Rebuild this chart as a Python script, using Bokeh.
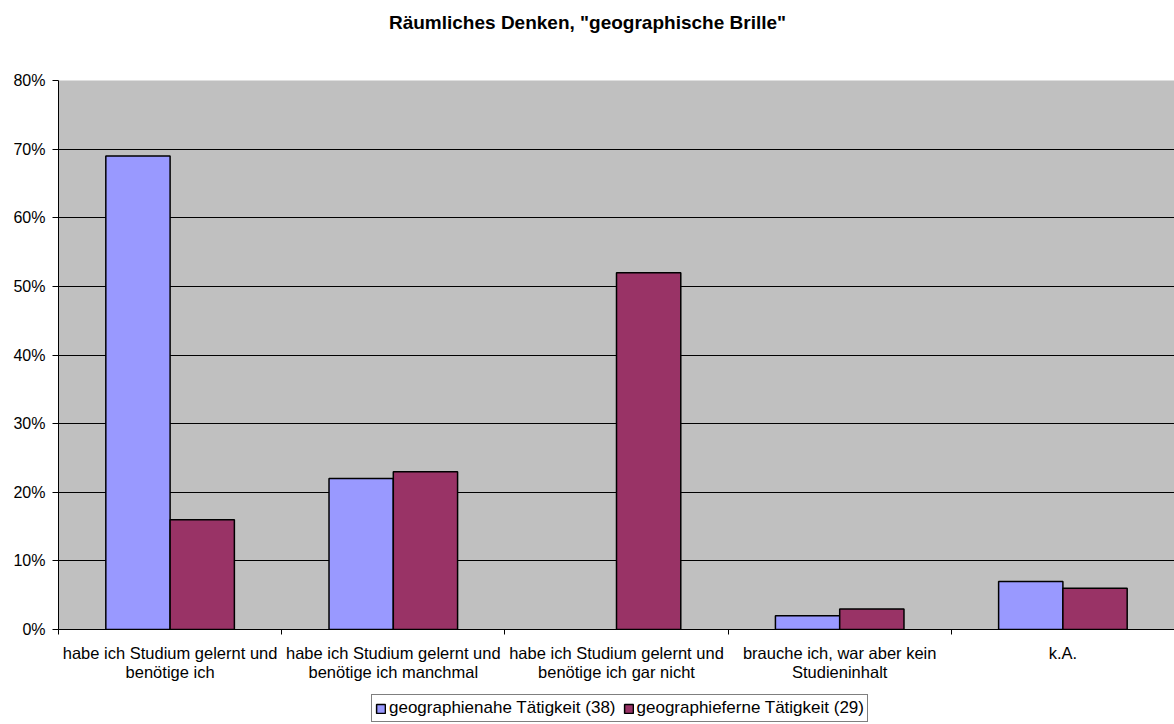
from bokeh.plotting import figure
from bokeh.layouts import column
from bokeh.models import (FixedTicker, NumeralTickFormatter, Legend, LegendItem,
                          Label, ColumnDataSource, Range1d)
from bokeh.embed import file_html
from bokeh.resources import INLINE

# ---- data ----
title_text = 'Räumliches Denken, "geographische Brille"'
categories = [
    "habe ich Studium gelernt und\nbenötige ich",
    "habe ich Studium gelernt und\nbenötige ich manchmal",
    "habe ich Studium gelernt und\nbenötige ich gar nicht",
    "brauche ich, war aber kein\nStudieninhalt",
    "k.A.",
]
series_names = ["geographienahe Tätigkeit (38)", "geographieferne Tätigkeit (29)"]
nahe = [0.69, 0.22, 0.0, 0.02, 0.07]
ferne = [0.16, 0.23, 0.52, 0.03, 0.06]
y_ticks = [0.0, 0.1, 0.2, 0.3, 0.4, 0.5, 0.6, 0.7, 0.8]
colors = ["#9999FF", "#993366"]

FONT = "Liberation Sans"
BAR_W = 0.288
W = 1174
LEFT = 58          # frames of all stacked figures are aligned at this x
TITLE_H = 45
MAIN_H = 645
LEG_H = 724 - TITLE_H - MAIN_H


def blank_fig(h):
    f = figure(width=W, height=h, output_backend="svg", toolbar_location=None,
               x_axis_type=None, y_axis_type=None, x_range=Range1d(0, 1),
               y_range=Range1d(0, 1), min_border=0, min_border_left=LEFT)
    f.outline_line_color = None
    f.background_fill_color = "white"
    f.border_fill_color = "white"
    f.xgrid.grid_line_color = None
    f.ygrid.grid_line_color = None
    return f


# ---- title ----
t = blank_fig(TITLE_H)
t.add_layout(Label(x=W / 2 - LEFT, y=TITLE_H - 22, x_units="screen", y_units="screen",
                   text=title_text, text_align="center", text_baseline="middle",
                   text_font=FONT, text_font_size="19px", text_font_style="bold",
                   text_color="black"))

# ---- main chart ----
p = figure(width=W, height=MAIN_H, output_backend="svg", toolbar_location=None,
           x_range=Range1d(0, len(categories)), y_range=Range1d(0, 0.8),
           min_border_left=LEFT, min_border_right=0, min_border_top=80 - TITLE_H,
           min_border_bottom=MAIN_H - (629 - TITLE_H))
p.background_fill_color = "#C0C0C0"
p.border_fill_color = "white"
p.outline_line_color = None

for s, (vals, col) in enumerate(zip([nahe, ferne], colors)):
    offset = -BAR_W / 2 if s == 0 else BAR_W / 2
    xs = [i + 0.5 + offset for i, v in enumerate(vals) if v > 0]
    ys = [v for v in vals if v > 0]
    src = ColumnDataSource(dict(x=xs, top=ys))
    p.vbar(x="x", top="top", bottom=0, width=BAR_W, source=src,
           fill_color=col, line_color="black", line_width=1.5)

centers = [i + 0.5 for i in range(len(categories))]
bounds = list(range(len(categories) + 1))
p.xaxis.ticker = FixedTicker(ticks=centers, minor_ticks=bounds)
p.xaxis.major_label_overrides = {c: lab for c, lab in zip(centers, categories)}
p.xaxis.major_tick_out = 0
p.xaxis.major_tick_in = 0
p.xaxis.minor_tick_out = 5
p.xaxis.minor_tick_in = 0
p.xaxis.major_label_standoff = 9
p.xaxis.major_label_text_font = FONT
p.xaxis.major_label_text_font_size = "16.5px"
p.xaxis.major_label_text_color = "black"
p.xaxis.major_label_text_line_height = 1.1
p.xaxis.axis_line_color = "black"
p.xaxis.major_tick_line_color = "black"
p.xaxis.minor_tick_line_color = "black"
p.xgrid.grid_line_color = None

p.yaxis.ticker = FixedTicker(ticks=y_ticks)
p.yaxis.formatter = NumeralTickFormatter(format="0%")
p.yaxis.major_tick_out = 6
p.yaxis.major_tick_in = 0
p.yaxis.minor_tick_line_color = None
p.yaxis.major_label_standoff = 7
p.yaxis.major_label_text_font = FONT
p.yaxis.major_label_text_font_size = "16px"
p.yaxis.major_label_text_color = "black"
p.yaxis.axis_line_color = "black"
p.yaxis.major_tick_line_color = "black"
p.ygrid.ticker = FixedTicker(ticks=y_ticks)
p.ygrid.grid_line_color = "black"
p.ygrid.grid_line_width = 1

# ---- legend (separate strip; tiny proxy bars hidden behind the legend box) ----
lg = blank_fig(LEG_H)
leg_renderers = []
for col in colors:
    src = ColumnDataSource(dict(x=[0.5], top=[0.5]))
    leg_renderers.append(lg.vbar(x="x", top="top", bottom=0.45, width=0.002, source=src,
                                 fill_color=col, line_color="black", line_width=1.5))
legend = Legend(items=[LegendItem(label=n, renderers=[r]) for n, r in zip(series_names, leg_renderers)],
                orientation="horizontal", location=(371 - LEFT, 2))
legend.label_text_font = FONT
legend.label_text_font_size = "17px"
legend.label_text_color = "black"
legend.glyph_width = 11
legend.glyph_height = 11
legend.label_height = 15
legend.label_standoff = 3
legend.spacing = 7
legend.padding = 3
legend.margin = 0
legend.border_line_color = "black"
legend.border_line_width = 1
legend.background_fill_color = "white"
legend.background_fill_alpha = 1
lg.add_layout(legend)

layout = column(t, p, lg, spacing=0)
open("out.html", "w").write(file_html(layout, INLINE))
